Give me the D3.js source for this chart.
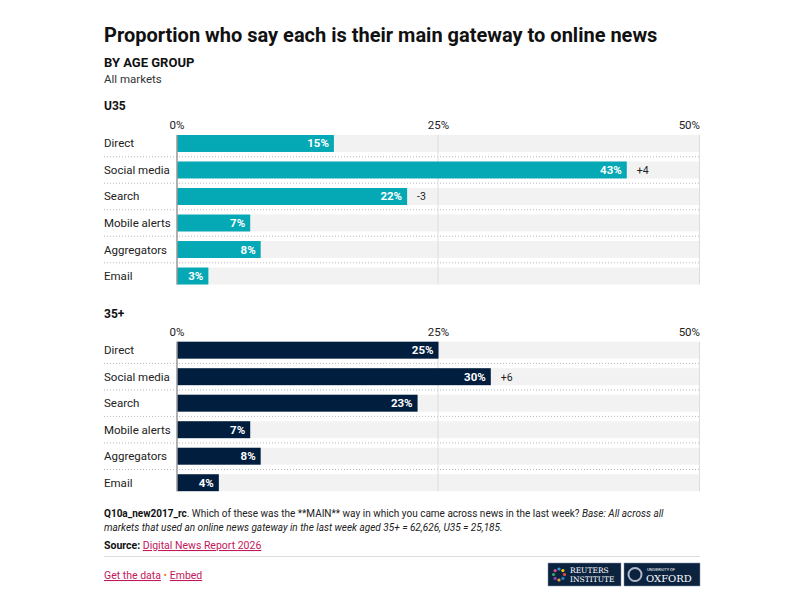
<!DOCTYPE html>
<html>
<head>
<meta charset="utf-8">
<script src="https://cdn.jsdelivr.net/npm/d3@7"></script>
<style>
  body { margin: 0; background: #fff; font-family: Roboto, "Noto Sans", sans-serif; }
  svg text { font-family: Roboto, "Noto Sans", sans-serif; }
  svg text.serif { font-family: "DejaVu Serif", "Liberation Serif", serif; }
</style>
</head>
<body>
<svg></svg>
<script>
// Chart dimensions
const width = 810;
const height = 611;
const left = 104;
const right = 700;
const plotLeft = 177;

// Data
const categories = ["Direct", "Social media", "Search", "Mobile alerts", "Aggregators", "Email"];
const groups = ["U35", "35+"];
const u35Values = [15, 43, 22, 7, 8, 3];
const u35Changes = [null, "+4", "-3", null, null, null];
const over35Values = [25, 30, 23, 7, 8, 4];
const over35Changes = [null, "+6", null, null, null, null];
const ticks = [0, 25, 50];

const svg = d3.select("svg")
    .attr("width", width)
    .attr("height", height)
    .attr("viewBox", [0, 0, width, height]);

// Titles
svg.append("text").attr("x", left).attr("y", 42)
    .attr("font-size", 20).attr("font-weight", 700).attr("fill", "#111")
    .text("Proportion who say each is their main gateway to online news");
svg.append("text").attr("x", left).attr("y", 67)
    .attr("font-size", 13).attr("font-weight", 700).attr("fill", "#111")
    .text("BY AGE GROUP");
svg.append("text").attr("x", left).attr("y", 83)
    .attr("font-size", 11.5).attr("fill", "#333")
    .text("All markets");

const x = d3.scaleLinear([0, 50], [plotLeft, right]);

function panel(labelY, tickY, barTop, label, values, changes, colour) {
  const g = svg.append("g");
  const y = d3.scaleBand(categories, [barTop, barTop + 149.5]).paddingInner(0.36).paddingOuter(0);

  g.append("text").attr("x", left).attr("y", labelY + 4)
      .attr("font-size", 12).attr("font-weight", 700).attr("fill", "#111")
      .text(label);

  // tick labels
  g.selectAll(".tick-label").data(ticks).join("text")
      .attr("x", d => x(d))
      .attr("y", tickY + 4)
      .attr("text-anchor", (d, i) => i === ticks.length - 1 ? "end" : "middle")
      .attr("font-size", 11.5).attr("fill", "#222")
      .text(d => d + "%");

  // background bars
  g.selectAll(".bg").data(categories).join("rect")
      .attr("x", x(0)).attr("width", x(50) - x(0))
      .attr("y", d => y(d)).attr("height", y.bandwidth())
      .attr("fill", "#f2f2f2");

  // dotted separators
  g.selectAll(".sep").data(categories.slice(1)).join("line")
      .attr("x1", left).attr("x2", right)
      .attr("y1", d => y(d) - y.step() * y.paddingInner() / 2)
      .attr("y2", d => y(d) - y.step() * y.paddingInner() / 2)
      .attr("stroke", "#bbb").attr("stroke-dasharray", "1,2");

  const y0 = y(categories[0]);
  const y1 = y(categories[categories.length - 1]) + y.bandwidth();

  // gridlines
  g.selectAll(".grid").data(ticks.slice(1)).join("line")
      .attr("x1", d => x(d) - 0.5).attr("x2", d => x(d) - 0.5)
      .attr("y1", y0).attr("y2", y1)
      .attr("stroke", "#ddd");

  // bars
  g.selectAll(".bar").data(values).join("rect")
      .attr("x", x(0))
      .attr("y", (d, i) => y(categories[i]))
      .attr("width", d => x(d) - x(0))
      .attr("height", y.bandwidth())
      .attr("fill", colour);

  // zero line
  g.append("line")
      .attr("x1", x(0)).attr("x2", x(0))
      .attr("y1", y0).attr("y2", y1)
      .attr("stroke", "#999").attr("stroke-width", 1.5);

  // category labels
  g.selectAll(".cat").data(categories).join("text")
      .attr("x", left)
      .attr("y", d => y(d) + y.bandwidth() / 2 + 4)
      .attr("font-size", 11.5).attr("fill", "#222")
      .text(d => d);

  // value labels
  g.selectAll(".val").data(values).join("text")
      .attr("x", d => x(d) - 5)
      .attr("y", (d, i) => y(categories[i]) + y.bandwidth() / 2 + 4)
      .attr("text-anchor", "end")
      .attr("font-size", 11.5).attr("font-weight", 700).attr("fill", "#fff")
      .text(d => d + "%");

  // change labels
  g.selectAll(".chg").data(values).join("text")
      .attr("x", d => x(d) + 10)
      .attr("y", (d, i) => y(categories[i]) + y.bandwidth() / 2 + 4)
      .attr("font-size", 10.5).attr("fill", "#222")
      .text((d, i) => changes[i] || "");
}

panel(105.5, 125, 135, groups[0], u35Values, u35Changes, "#05a8b5");
panel(313.5, 331.5, 341.7, groups[1], over35Values, over35Changes, "#011e3e");

// Footer notes
const note = svg.append("text").attr("x", left).attr("y", 517).attr("font-size", 10).attr("fill", "#222");
note.append("tspan").attr("font-weight", 700).attr("fill", "#111").text("Q10a_new2017_rc");
note.append("tspan").text(". Which of these was the **MAIN** way in which you came across news in the last week? ");
note.append("tspan").attr("font-style", "italic").text("Base: All across all");
svg.append("text").attr("x", left).attr("y", 531).attr("font-size", 10).attr("fill", "#222")
    .attr("font-style", "italic")
    .text("markets that used an online news gateway in the last week aged 35+ = 62,626, U35 = 25,185.");

const src = svg.append("text").attr("x", left).attr("y", 549).attr("font-size", 10.5);
src.append("tspan").attr("font-weight", 700).attr("fill", "#111").text("Source: ");
src.append("tspan").attr("fill", "#c2185b").attr("text-decoration", "underline").text("Digital News Report 2026");

svg.append("line").attr("x1", left).attr("x2", right).attr("y1", 556.5).attr("y2", 556.5)
    .attr("stroke", "#ddd");

const links = svg.append("text").attr("x", left).attr("y", 579).attr("font-size", 10.5);
links.append("tspan").attr("fill", "#c2185b").attr("text-decoration", "underline").text("Get the data");
links.append("tspan").attr("fill", "#f07d2a").text(" • ");
links.append("tspan").attr("fill", "#c2185b").attr("text-decoration", "underline").text("Embed");

// Logos
const logos = [
  {x: 548, w: 73, lines: ["REUTERS", "INSTITUTE"]},
  {x: 624, w: 76, lines: ["UNIVERSITY OF", "OXFORD"]}
];
const dotColours = ["#e94e3c", "#2a7fc1", "#f39c34", "#8e44ad", "#27ae60", "#e74c8c", "#3498db", "#f1c40f"];
logos.forEach((l, i) => {
  svg.append("rect").attr("x", l.x).attr("y", 563).attr("width", l.w).attr("height", 23)
      .attr("fill", "#0c2340").attr("stroke", "#8090a0").attr("stroke-width", 0.5);
  if (i === 0) {
    dotColours.forEach((c, k) => {
      const a = k / dotColours.length * 2 * Math.PI;
      svg.append("circle").attr("cx", l.x + 11 + 5.5 * Math.cos(a)).attr("cy", 574.5 + 5.5 * Math.sin(a))
          .attr("r", 1.6).attr("fill", c);
    });
    svg.append("text").attr("class", "serif").attr("x", l.x + 22).attr("y", 573).attr("font-size", 7.5)
        .attr("fill", "#fff").text(l.lines[0]);
    svg.append("text").attr("class", "serif").attr("x", l.x + 22).attr("y", 582).attr("font-size", 7.5)
        .attr("fill", "#fff").text(l.lines[1]);
  } else {
    svg.append("circle").attr("cx", l.x + 11).attr("cy", 574.5).attr("r", 6.5)
        .attr("fill", "none").attr("stroke", "#b0b8c8").attr("stroke-width", 2);
    svg.append("text").attr("x", l.x + 23).attr("y", 571).attr("font-size", 4)
        .attr("fill", "#fff").text(l.lines[0]);
    svg.append("text").attr("class", "serif").attr("x", l.x + 22).attr("y", 582).attr("font-size", 10)
        .attr("fill", "#fff").text(l.lines[1]);
  }
});
</script>
</body>
</html>
